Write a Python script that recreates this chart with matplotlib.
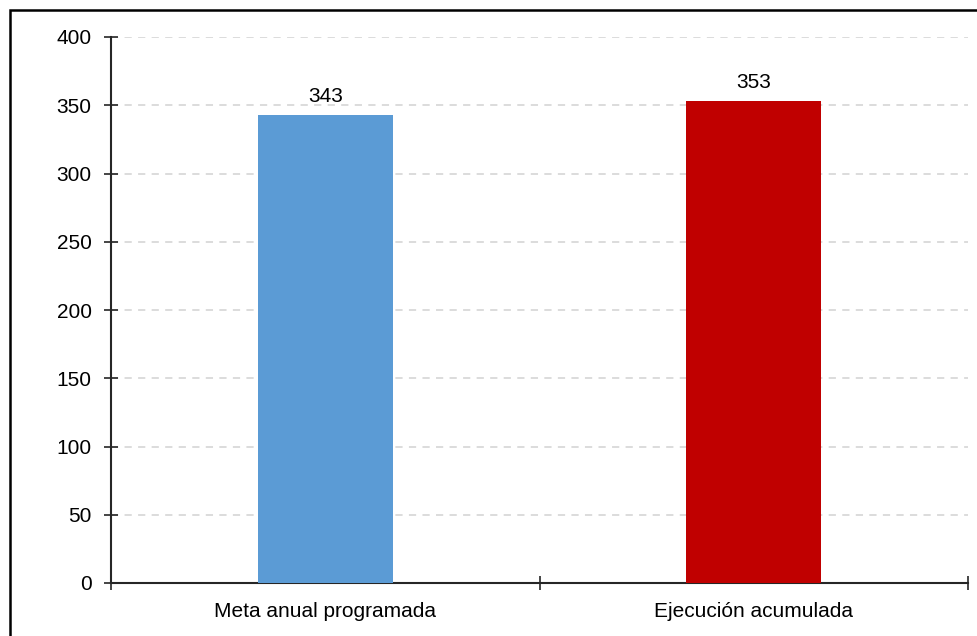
import matplotlib
matplotlib.use("Agg")
import matplotlib.pyplot as plt
from matplotlib.patches import Rectangle

categories = ["Meta anual programada", "Ejecución acumulada"]
values = [343, 353]
colors = ["#5B9BD5", "#C00000"]
yticks = [0, 50, 100, 150, 200, 250, 300, 350, 400]

plt.rcParams['font.family'] = ['Liberation Sans', 'DejaVu Sans']
FS = 15

W, H = 977, 636
fig = plt.figure(figsize=(W/100, H/100), dpi=100)
ax = fig.add_axes([111/W, 1-583/H, (968-111)/W, (583-37)/H])

x = list(range(len(categories)))
bars = ax.bar(x, values, width=0.315, color=colors, zorder=3)
for xi, v in zip(x, values):
    ax.annotate(f"{v}", (xi, v), xytext=(0, 9.4), textcoords="offset points",
                ha="center", va="baseline", fontsize=FS, color="#000000")

ax.set_xlim(-0.5, 1.5)
ax.set_ylim(0, 400)
ax.set_yticks(yticks)
ax.set_yticklabels([str(t) for t in yticks], fontsize=FS)
ax.set_xticks([-0.5, 0.5, 1.5])
ax.set_xticklabels([])
ax.set_xticks(x, minor=True)
ax.set_xticklabels(categories, minor=True, fontsize=FS)
ax.tick_params(axis='x', which='minor', length=0, pad=13.5)
ax.tick_params(axis='x', which='major', direction='inout', length=10, width=1.2, color='#262626')
ax.tick_params(axis='y', direction='inout', length=10, width=1.2, color='#262626', pad=9)

ax.yaxis.grid(True, linestyle=(0, (4, 3.5)), color='#D9D9D9', linewidth=1.3, zorder=0)
ax.set_axisbelow(True)
for s in ['top', 'right']:
    ax.spines[s].set_visible(False)
for s in ['left', 'bottom']:
    ax.spines[s].set_color('#262626')
    ax.spines[s].set_linewidth(1.5)

fig.patches.append(Rectangle((9.5/W, -0.1), 1.2, 1 - 9.5/H + 0.1, transform=fig.transFigure,
                             fill=False, edgecolor='#000000', linewidth=1.8))

fig.savefig("out.png", dpi=100)
